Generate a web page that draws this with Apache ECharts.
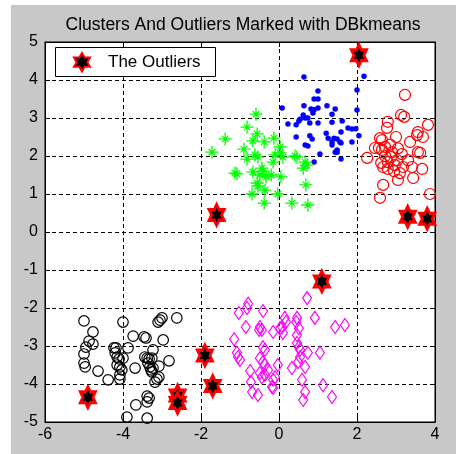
<!DOCTYPE html>
<html>
<head>
<meta charset="utf-8">
<script src="https://cdn.jsdelivr.net/npm/echarts@6/dist/echarts.min.js"></script>
<style>
  html, body { margin: 0; padding: 0; background: #fff; }
  #chart { width: 456px; height: 454px; }
</style>
</head>
<body>
<div id="chart"></div>
<script>
// values
var blueCluster = [
  [0.64,4.08],[1.0,3.71],[0.9,3.5],[1.0,3.5],[0.08,3.26],[0.64,3.32],[0.82,3.24],[0.9,3.22],
  [1.0,3.26],[1.23,3.32],[1.44,3.24],[0.62,3.08],[0.67,3.0],[0.54,2.97],[0.74,3.0],[0.87,3.13],
  [0.23,2.84],[0.44,2.82],[0.51,2.92],[0.79,2.87],[1.0,2.87],[1.36,2.89],[1.62,2.92],[1.77,2.74],
  [1.87,2.71],[1.97,2.72],[0.44,2.5],[0.79,2.53],[0.85,2.45],[1.21,2.6],[1.26,2.47],[1.59,2.63],
  [1.41,2.47],[0.67,2.29],[0.74,2.26],[1.36,2.29],[1.59,2.34],[1.87,2.37],[1.05,2.05],[1.49,2.1],
  [1.59,1.92],[0.9,1.84],[2.18,4.1],[2.0,3.74],[2.0,3.21],[2.05,2.53],[1.36,3.1],[1.49,2.45],
  [1.36,2.37],[1.56,2.37],[1.49,2.16],[1.44,2.1]
];
var greenCluster = [
  [-0.59,3.1],[-0.82,2.76],[-1.38,2.45],[-0.56,2.58],[-0.67,2.4],[-0.38,2.37],[-0.13,2.47],
  [-1.72,2.1],[-0.9,2.18],[-0.82,1.92],[-0.62,2.03],[-0.54,1.97],[-0.1,2.03],[0.03,2.08],
  [0.1,1.97],[0.03,2.24],[0.41,2.0],[0.67,1.84],[0.72,1.76],[0.62,1.68],[-1.13,1.55],
  [-1.08,1.53],[-0.67,1.58],[-0.44,1.68],[-0.41,1.6],[-0.49,1.5],[-0.33,1.45],[-0.15,1.84],
  [-0.2,1.5],[0.05,1.45],[-0.56,1.29],[-0.54,1.21],[-0.36,1.1],[-0.69,1.0],[-0.03,1.0],
  [0.69,1.24],[-0.38,0.76],[0.33,0.76],[0.74,0.71],[0.46,1.97]
];
var redCluster = [
  [3.23,3.61],[3.13,3.08],[3.21,3.03],[2.79,2.9],[2.77,2.74],[3.82,2.82],[3.56,2.63],[3.54,2.55],
  [3.69,2.5],[3.0,2.5],[3.36,2.37],[2.59,2.47],[2.64,2.42],[2.46,2.21],[2.56,2.21],[2.64,2.16],
  [2.72,2.24],[2.26,1.95],[2.9,2.1],[2.87,1.97],[3.15,2.05],[3.03,1.89],[2.97,1.76],[2.79,1.84],
  [2.62,1.82],[2.67,1.71],[3.56,2.1],[3.62,2.08],[3.31,1.89],[3.41,1.71],[3.67,1.66],[2.79,1.66],
  [3.1,1.55],[3.18,1.71],[3.44,1.42],[3.05,1.37],[2.67,1.24],[3.87,1.0],[2.59,0.9],[2.72,2.0],
  [2.85,2.3],[3.05,2.2],[2.95,1.6]
];
var blackCluster = [
  [-5.0,-2.34],[-4.0,-2.37],[-3.05,-2.32],[-3.1,-2.37],[-3.0,-2.26],[-2.62,-2.26],[-4.77,-2.63],
  [-3.74,-2.74],[-3.46,-2.76],[-3.41,-2.79],[-2.97,-2.84],[-4.87,-2.87],[-4.77,-2.95],[-4.95,-3.03],
  [-4.23,-3.05],[-4.18,-3.05],[-3.87,-3.05],[-3.23,-3.1],[-5.0,-3.21],[-4.2,-3.18],[-4.15,-3.29],
  [-4.1,-3.34],[-3.44,-3.29],[-3.38,-3.32],[-3.33,-3.34],[-3.26,-3.32],[-4.0,-3.32],[-5.0,-3.45],
  [-4.97,-3.55],[-4.15,-3.5],[-4.08,-3.55],[-4.03,-3.63],[-3.69,-3.58],[-3.36,-3.45],[-3.31,-3.55],
  [-3.23,-3.58],[-3.08,-3.53],[-2.82,-3.39],[-4.64,-3.66],[-4.08,-3.76],[-3.28,-3.63],[-3.26,-3.68],
  [-4.38,-3.89],[-4.08,-3.87],[-3.13,-3.87],[-3.18,-3.95],[-3.08,-3.82],[-3.38,-4.32],[-3.33,-4.37],
  [-3.38,-4.47],[-3.67,-4.55],[-3.9,-4.87],[-3.38,-4.9]
];
var magentaCluster = [
  [0.72,-1.74],[-0.79,-1.89],[-0.82,-2.0],[-0.41,-2.08],[-1.03,-2.13],[0.92,-2.26],[0.46,-2.26],
  [0.44,-2.37],[0.15,-2.26],[0.18,-2.37],[1.44,-2.5],[1.69,-2.45],[-0.85,-2.5],[-0.49,-2.5],
  [-0.44,-2.58],[-0.51,-2.58],[-0.15,-2.63],[0.08,-2.5],[0.03,-2.53],[0.1,-2.66],[0.51,-2.53],
  [0.46,-2.71],[-1.15,-2.82],[-0.41,-3.03],[-0.36,-3.1],[0.46,-2.92],[0.51,-3.03],[0.54,-3.1],
  [-1.08,-3.18],[-1.05,-3.29],[0.74,-3.18],[1.05,-3.18],[-0.49,-3.32],[-0.41,-3.42],[-0.36,-3.5],
  [-0.03,-3.5],[0.54,-3.29],[0.49,-3.42],[-0.28,-3.63],[0.33,-3.58],[0.67,-3.55],[-0.74,-3.66],
  [-0.49,-3.71],[-0.44,-3.82],[-0.36,-3.76],[-0.1,-3.82],[-0.15,-3.89],[0.59,-3.89],[1.13,-4.03],
  [-0.72,-3.95],[-0.18,-4.08],[-0.15,-4.1],[0.67,-4.21],[-0.69,-4.21],[0.62,-4.42],[1.36,-4.34],
  [-0.54,-4.29],[-1.0,-3.37]
];
var outliers = [
  [2.05,4.65],[-1.6,0.45],[3.3,0.4],[3.8,0.35],[1.1,-1.3],[-1.9,-3.25],[-1.7,-4.05],
  [-2.6,-4.3],[-2.6,-4.5],[-4.9,-4.35]
];
var xTicks = [-6, -4, -2, 0, 2, 4];
var yTicks = [-5, -4, -3, -2, -1, 0, 1, 2, 3, 4, 5];

var hexagram = 'path://M0,-10L2.887,-5L8.66,-5L5.77,0L8.66,5L2.887,5L0,10L-2.887,5L-8.66,5L-5.77,0L-8.66,-5L-2.887,-5Z';
var asterisk = 'path://M-0.6,-6L0.6,-6L0.6,6L-0.6,6Z M-6,-0.6L6,-0.6L6,0.6L-6,0.6Z ' +
  'M-3.4,-2.6L-2.6,-3.4L3.4,2.6L2.6,3.4Z M2.6,-3.4L3.4,-2.6L-2.6,3.4L-3.4,2.6Z';

var chart = echarts.init(document.getElementById('chart'));

var font = 'Liberation Sans, Arial, sans-serif';
var dashed = { show: true, lineStyle: { color: '#000', type: [4, 3], width: 1 } };

function xAxisDef(pos, labels) {
  return {
    type: 'value', position: pos, min: -6, max: 4, interval: 2,
    axisLine: { show: true, onZero: false, lineStyle: { color: '#000' } },
    axisTick: { show: true, inside: true, length: 5, lineStyle: { color: '#000' } },
    axisLabel: { show: labels, color: '#000', fontSize: 16, fontFamily: font, margin: 5,
      formatter: function (v) { return xTicks.indexOf(v) >= 0 ? String(v) : ''; } },
    splitLine: labels ? dashed : { show: false }
  };
}
function yAxisDef(pos, labels) {
  return {
    type: 'value', position: pos, min: -5, max: 5, interval: 1,
    axisLine: { show: true, onZero: false, lineStyle: { color: '#000' } },
    axisTick: { show: true, inside: true, length: 5, lineStyle: { color: '#000' } },
    axisLabel: { show: labels, color: '#000', fontSize: 16, fontFamily: font, margin: 7,
      formatter: function (v) { return yTicks.indexOf(v) >= 0 ? String(v) : ''; } },
    splitLine: labels ? dashed : { show: false }
  };
}

function cluster(data, symbol, size, stroke, fill, bw) {
  return {
    type: 'scatter', data: data, symbol: symbol, symbolSize: size,
    xAxisIndex: 0, yAxisIndex: 0, silent: true,
    itemStyle: { color: fill, borderColor: stroke, borderWidth: bw, opacity: 1 }
  };
}

chart.setOption({
  animation: false,
  backgroundColor: '#fff',
  graphic: [{
    type: 'rect', z: -10, silent: true,
    shape: { x: 11, y: 5, width: 445, height: 449 },
    style: { fill: '#c8c8c8' }
  }, {
    // legend frame
    type: 'rect', z: 3, silent: true,
    shape: { x: 55.5, y: 47.5, width: 160, height: 29 },
    style: { fill: '#fff', stroke: '#000', lineWidth: 1 }
  }],
  title: {
    text: 'Clusters And Outliers Marked with DBkmeans',
    left: 238, top: 11, textAlign: 'center',
    textStyle: { fontSize: 17.5, fontWeight: 'normal', color: '#000', fontFamily: font }
  },
  grid: {
    left: 45, top: 42, right: 21, bottom: 32,
    show: true, backgroundColor: '#fff', borderColor: '#000', borderWidth: 1
  },
  legend: {
    left: 73, top: 52, z: 4,
    data: ['The Outliers'],
    padding: 0,
    itemWidth: 16, itemHeight: 20,
    textStyle: { fontSize: 17, color: '#000', fontFamily: font, padding: [0, 0, 0, 13] }
  },
  xAxis: [xAxisDef('bottom', true), xAxisDef('top', false)],
  yAxis: [yAxisDef('left', true), yAxisDef('right', false)],
  series: [
    cluster(blackCluster, 'circle', 10.5, '#000', 'rgba(0,0,0,0)', 1.2),
    cluster(redCluster, 'circle', 11, '#ff0000', 'rgba(0,0,0,0)', 1.2),
    cluster(magentaCluster, 'diamond', [9, 13], '#ff00ff', 'rgba(0,0,0,0)', 1.2),
    cluster(blueCluster, 'circle', 5.5, '#0000ff', '#0000ff', 0),
    cluster(greenCluster, asterisk, 13, '#00ff00', '#00ff00', 0),
    {
      name: 'The Outliers', type: 'scatter', data: outliers,
      symbol: hexagram, symbolSize: [15, 21], silent: true,
      itemStyle: { color: '#000', borderColor: '#ff0000', borderWidth: 3, opacity: 1 }
    }
  ]
});
</script>
</body>
</html>
